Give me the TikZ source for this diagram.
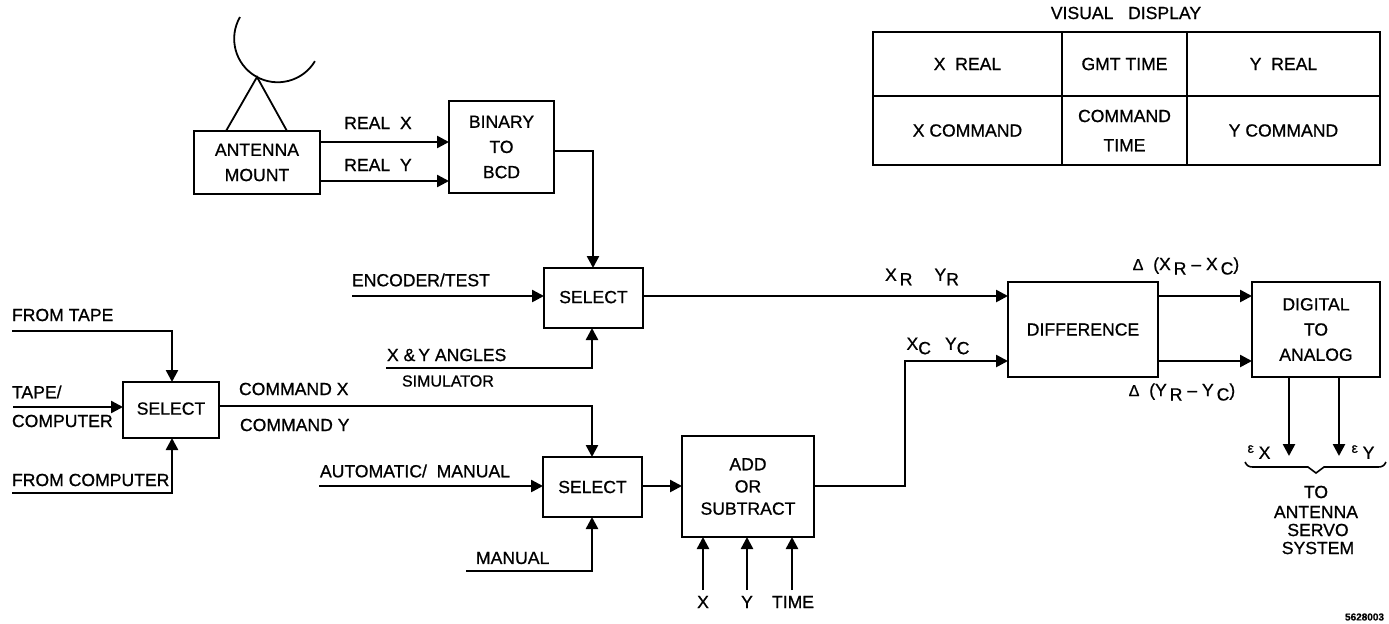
\documentclass[tikz,border=0pt]{standalone}
\usepackage{fontspec}
\setmainfont[RawFeature={embolden=0.8}]{Liberation Sans}
\usetikzlibrary{arrows.meta}
\newcommand{\dn}[1]{\lower2.2pt\hbox{#1}}
\tikzset{
  x=0.5pt,y=-0.5pt,
  every node/.style={font=\fontsize{8.8}{12.6}\selectfont,inner sep=0pt,outer sep=0pt},
  bx/.style={draw,line width=1.1pt,align=center,minimum width=#1},
  lab/.style={anchor=center,align=center},
  labl/.style={anchor=west,align=left},
  arr/.style={line width=1.25pt,-{Triangle[length=6pt,width=6pt]}}
}
\begin{document}
\begin{tikzpicture}
\useasboundingbox (0,0) rectangle (1389,623);
% boxes
\node[bx=63pt,minimum height=31.5pt] (ant) at (257,162.5) {ANTENNA\\MOUNT};
\node[bx=52.5pt,minimum height=46pt] (bin) at (501.5,147) {BINARY\\TO\\BCD};
\node[bx=49.5pt,minimum height=30pt] (sela) at (593.5,298) {\raisebox{1pt}{SELECT}};
\node[bx=48pt,minimum height=28pt] (selb) at (171,410) {\raisebox{1.5pt}{SELECT}};
\node[bx=49.5pt,minimum height=30pt] (selc) at (592.5,487) {SELECT};
\node[bx=66pt,minimum height=50.5pt] (add) at (748,486.5) {ADD\\[-1.5pt]OR\\[-1.5pt]SUBTRACT};
\node[bx=75pt,minimum height=47.5pt] (diff) at (1083,329.5) {DIFFERENCE};
\node[bx=64pt,minimum height=47.5pt] (dac) at (1316,329.5) {DIGITAL\\TO\\ANALOG};
% display table
\node[lab] (vis) at (1126,13) {VISUAL\ \ \ DISPLAY};
\node[bx=94.5pt,minimum height=32pt] (t1) at (967.5,64) {X\ \ REAL};
\node[bx=62.5pt,minimum height=32pt] (t2) at (1124.5,64) {GMT TIME};
\node[bx=96.5pt,minimum height=32pt] (t3) at (1283.5,64) {Y\ \ REAL};
\node[bx=94.5pt,minimum height=34.5pt] (t4) at (967.5,130.5) {X COMMAND};
\node[bx=62.5pt,minimum height=34.5pt] (t5) at (1124.5,130.5) {COMMAND\\[2pt]TIME};
\node[bx=96.5pt,minimum height=34.5pt] (t6) at (1283.5,130.5) {Y COMMAND};
% antenna dish
\coordinate (apex) at (257,77);
\draw[line width=0.9pt] (240,17) arc[start angle=150,end angle=329,radius=21.75pt];
\draw[line width=0.9pt] (ant.north -| 226,0) -- (apex) -- (ant.north -| 287,0);
% free ends
\coordinate (encS) at (352,296);
\coordinate (angS) at (386,368);
\coordinate (tapeS) at (12,331);
\coordinate (tcS) at (13,407);
\coordinate (compS) at (12,493);
\coordinate (autoS) at (319,486);
\coordinate (manS) at (466,571);
\coordinate (xS) at (703,590);
\coordinate (yS) at (747,590);
\coordinate (timeS) at (792,590);
\coordinate (exE) at (1289,456);
\coordinate (eyE) at (1339,456);
% connectors
\draw[arr] (ant.east |- 0,142) -- (bin.west |- 0,142);
\draw[arr] (ant.east |- 0,181) -- (bin.west |- 0,181);
\draw[arr] (bin.east |- 0,151) -| (sela.north -| 593,0);
\draw[arr] (encS) -- (sela.west |- encS);
\draw[arr] (angS) -| (sela.south -| 592,0);
\draw[arr] (sela.east |- 0,296) -- (diff.west |- 0,296);
\draw[arr] (tapeS) -| (selb.north -| 172,0);
\draw[arr] (tcS) -- (selb.west |- tcS);
\draw[arr] (compS) -| (selb.south -| 172,0);
\draw[arr] (selb.east |- 0,406) -| (selc.north -| 592,0);
\draw[arr] (autoS) -- (selc.west |- autoS);
\draw[arr] (manS) -| (selc.south -| 592,0);
\draw[arr] (selc.east |- 0,486) -- (add.west |- 0,486);
\draw[arr] (xS) -- (add.south -| xS);
\draw[arr] (yS) -- (add.south -| yS);
\draw[arr] (timeS) -- (add.south -| timeS);
\draw[arr] (add.east |- 0,486) -- (905,486) -- (905,361) -- (diff.west |- 0,361);
\draw[arr] (diff.east |- 0,296) -- (dac.west |- 0,296);
\draw[arr] (diff.east |- 0,361) -- (dac.west |- 0,361);
\draw[arr] (dac.south -| exE) -- (exE);
\draw[arr] (dac.south -| eyE) -- (eyE);
% brace
\draw[line width=0.8pt] (1245,462) .. controls (1247,466) and (1249,467) .. (1253,467) -- (1308,467) -- (1316,473) -- (1324,467) -- (1378,467) .. controls (1382,467) and (1384,466) .. (1386,462);
% labels
\node[lab] (l1) at (378,123) {REAL\ \ X};
\node[lab] (l2) at (378,165) {REAL\ \ Y};
\node[labl] (l3) at (352,280) {ENCODER/TEST};
\node[labl] (l4) at (12,315) {FROM TAPE};
\node[labl] (l5) at (12,392) {TAPE/};
\node[labl] (l6) at (12,421) {COMPUTER};
\node[labl] (l7) at (12,480) {FROM COMPUTER};
\node[labl] (l8) at (387,355) {X \&\,Y ANGLES};
\node[labl,font=\fontsize{8}{10}\selectfont] (l9) at (402,381) {SIMULATOR};
\node[labl] (l10) at (239,389) {COMMAND X};
\node[labl] (l11) at (240,425) {COMMAND Y};
\node[labl] (l12) at (320,471) {AUTOMATIC/\ \ MANUAL};
\node[labl] (l13) at (476,558) {MANUAL};
\node[lab] (l14) at (703,602) {X};
\node[lab] (l15) at (747,602) {Y};
\node[lab] (l16) at (793,602) {TIME};
\node[lab] (l17) at (922,277) {X\,\dn{R}\hspace{11pt}Y\dn{R}};
\node[lab] (l18) at (938,346) {X\dn{C}\hspace{7pt}Y\dn{C}};
\node[lab] (l19) at (1186,266) {{\fontsize{8}{8}\selectfont Δ}\ \ (X\,\dn{R} – X\,\dn{C})};
\node[lab] (l20) at (1182,392) {{\fontsize{8}{8}\selectfont Δ}\ \ (Y\,\dn{R} – Y\,\dn{C})};
\node[lab] (l21) at (1259,452) {{\fontsize{7}{7}\selectfont\raisebox{3pt}{ε}}\ X};
\node[lab] (l22) at (1363,452) {{\fontsize{7}{7}\selectfont\raisebox{3pt}{ε}}\ Y};
\node[lab] (l23) at (1316,492) {TO};
\node[lab] (l24) at (1316,512) {ANTENNA};
\node[lab] (l25) at (1318,530) {SERVO};
\node[lab] (l26) at (1318,548) {SYSTEM};
\node[anchor=east,font=\fontsize{5}{6}\selectfont\bfseries] (l27) at (1384,617) {5628003};
\end{tikzpicture}
\end{document}
